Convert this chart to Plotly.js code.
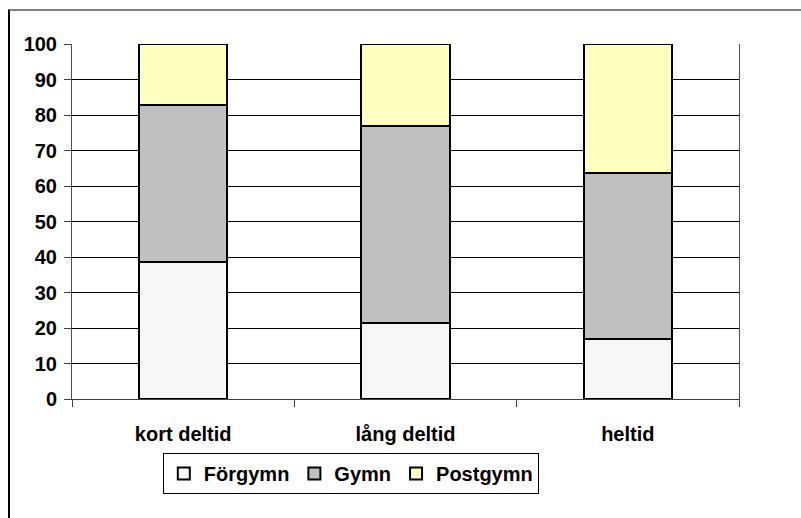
<!DOCTYPE html>
<html>
<head>
<meta charset="utf-8">
<script src="https://cdn.plot.ly/plotly-3.0.1.min.js"></script>
<style>
body{margin:0;background:#fff;}
#chart{position:absolute;left:0;top:0;width:801px;height:518px;}
#frame{position:absolute;left:8px;top:9px;width:793px;height:509px;border-top:2px solid #808080;border-left:2px solid #000;box-sizing:border-box;pointer-events:none;}
</style>
</head>
<body>
<div id="chart"></div>
<div id="frame"></div>
<script>
// andel per utbildningsnivå (procent)
categories=["kort deltid","lång deltid","heltid"];
forgymn=[38.7,21.3,16.8];
gymn=[44.0,55.7,46.8];
postgymn=[17.3,23.0,36.4];

seriesNames=["Förgymn","Gymn","Postgymn"];
seriesColors=["#f7f7f7","#c0c0c0","#ffffc0"];
seriesValues=[forgymn,gymn,postgymn];

tracks=[];
for(let i=0;i<seriesNames.length;i++)
{
    tracks.push({
        x:categories, y:seriesValues[i],
        type:"bar",
        name:seriesNames[i],
        marker:{color:seriesColors[i],line:{color:"#000",width:2}},
        hoverinfo:"none"
    });
}

var font={family:"Arial, 'Liberation Sans', sans-serif",size:20,color:"#000",weight:"bold"};

var layout={
    barmode:"stack",
    bargap:0.603,
    width:801, height:518,
    paper_bgcolor:"#fff", plot_bgcolor:"#fff",
    font:font,
    showlegend:true,
    margin:{l:72,r:62,t:44,b:119},
    xaxis:{
        type:"category",
        tickson:"boundaries",
        ticks:"outside", ticklen:7, tickcolor:"#404040", tickwidth:1,
        showline:true, linecolor:"#404040", linewidth:1,
        showgrid:false,
        tickfont:font,
        ticklabelstandoff:17,
        fixedrange:true
    },
    yaxis:{
        range:[0,100],
        dtick:10,
        ticks:"outside", ticklen:7, tickcolor:"#404040", tickwidth:1,
        showline:true, linecolor:"#505050", linewidth:1, mirror:true,
        showgrid:true, gridcolor:"#000", gridwidth:1,
        zeroline:false,
        tickfont:font,
        ticklabelstandoff:3,
        fixedrange:true
    },
    legend:{
        orientation:"h",
        x:0.418, xanchor:"center",
        y:-0.152, yanchor:"top",
        bordercolor:"#000", borderwidth:1,
        bgcolor:"#fff",
        font:font,
        traceorder:"normal",
        itemwidth:30
    }
};

Plotly.newPlot("chart",tracks,layout,{displayModeBar:false,staticPlot:true});
</script>
</body>
</html>
